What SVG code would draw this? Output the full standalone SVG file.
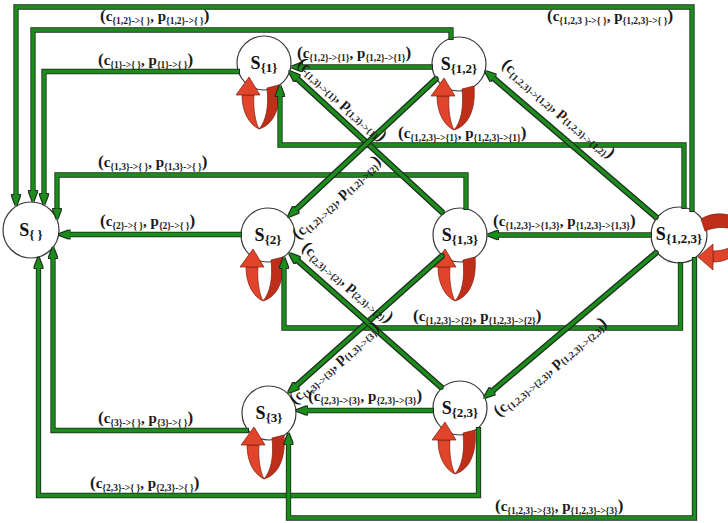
<svg xmlns="http://www.w3.org/2000/svg" width="728" height="523" viewBox="0 0 728 523">
<style>
.nd{fill:#fff;stroke:#3a3a3a;stroke-width:1.2}
.nl{font-family:"Liberation Serif",serif;font-weight:bold;font-size:18px;fill:#111;text-anchor:middle}
.ns{font-size:13px}
.c{fill:none;stroke:#1f8c1f;stroke-width:3.3;marker-end:url(#ah);filter:url(#ol)}
.lb{font-family:"Liberation Serif",serif;font-weight:bold;font-size:15px;fill:#1a1a1a}
.sb{font-size:9.5px}
.pa{font-size:17px}
.rd{fill:#bf2e18;stroke:#7d1c0c;stroke-width:0.7;stroke-linejoin:round}
.rl{fill:#e0442a;stroke:#7d1c0c;stroke-width:0.7;stroke-linejoin:round}
</style>
<defs>
<filter id="ol" filterUnits="userSpaceOnUse" x="0" y="0" width="728" height="523">
<feMorphology in="SourceAlpha" operator="dilate" radius="1" result="d"/>
<feFlood flood-color="#1c2f1c"/>
<feComposite in2="d" operator="in" result="o"/>
<feMerge><feMergeNode in="o"/><feMergeNode in="SourceGraphic"/></feMerge>
</filter>
<marker id="ah" markerUnits="userSpaceOnUse" viewBox="0 0 11 11" refX="0" refY="5.5" markerWidth="11" markerHeight="11" orient="auto"><path d="M0,1.3 L11,5.5 L0,9.7 Z" fill="#1f8c1f"/></marker>
<g id="loop">
<path class="rd" d="M3,25 C5,44 2,58 -5,66 C9,62 17,46 15,22 Z"/>
<path class="rl" d="M-22,32 C-22,50 -14,62 -5,66 C-9,58 -11,45 -10,32 Z"/>
<path class="rl" d="M-28,32 L-15,14 L-4,32 Z"/>
</g>
</defs>
<rect width="728" height="523" fill="#fff"/>
<g id="nodes">
<g id="n_empty"><circle class="nd" cx="31" cy="230" r="28"/><text class="nl" x="31" y="236">S<tspan class="ns" dy="3">{ }</tspan></text></g>
<g id="n_1"><circle class="nd" cx="264" cy="63" r="27"/><text class="nl" x="264" y="69">S<tspan class="ns" dy="3">{1}</tspan></text></g>
<g id="n_12"><circle class="nd" cx="459" cy="64" r="27"/><text class="nl" x="459" y="70">S<tspan class="ns" dy="3">{1,2}</tspan></text></g>
<g id="n_2"><circle class="nd" cx="268" cy="235" r="27"/><text class="nl" x="268" y="241">S<tspan class="ns" dy="3">{2}</tspan></text></g>
<g id="n_13"><circle class="nd" cx="460" cy="235" r="27"/><text class="nl" x="460" y="241">S<tspan class="ns" dy="3">{1,3}</tspan></text></g>
<g id="n_123"><circle class="nd" cx="679" cy="235" r="28"/><text class="nl" x="679" y="240">S<tspan class="ns" dy="3">{1,2,3}</tspan></text></g>
<g id="n_3"><circle class="nd" cx="269" cy="413" r="27"/><text class="nl" x="269" y="419">S<tspan class="ns" dy="3">{3}</tspan></text></g>
<g id="n_23"><circle class="nd" cx="460" cy="408" r="27"/><text class="nl" x="460" y="414">S<tspan class="ns" dy="3">{2,3}</tspan></text></g>
</g>
<g id="connectors">
<g id="selfloops">
<use href="#loop" transform="translate(264,63)"/>
<use href="#loop" transform="translate(459,64)"/>
<use href="#loop" transform="translate(268,235)"/>
<use href="#loop" transform="translate(460,235)"/>
<use href="#loop" transform="translate(269,413)"/>
<use href="#loop" transform="translate(460,408)"/>
<g id="loop123">
<path class="rd" d="M701,219 C712,212 728,212 742,220 L742,233 C730,226 716,226 705,231 Z"/>
<path class="rl" d="M742,233 C738,245 728,251 713,251 L713,262 C730,262 742,252 742,233 Z"/>
<path class="rl" d="M713,244 L698,257 L713,270 Z"/>
</g>
</g>
<path class="c" d="M692,211 V7 H16 V195"/>
<path class="c" d="M451,39 V30 H33 V191"/>
<path class="c" d="M239,71.5 H44 V194"/>
<path class="c" d="M432,67 H302"/>
<path class="c" d="M684,208 V145 H280 V96"/>
<path class="c" d="M466,209 V175 H57 V208.6"/>
<path class="c" d="M241,234.5 H69.6"/>
<path class="c" d="M651,235 H498"/>
<path class="c" d="M680.5,263 V328 H284 V268"/>
<path class="c" d="M433,410.5 H307"/>
<path class="c" d="M248,430.5 H53 V258"/>
<path class="c" d="M478.5,428 V495.5 H38.5 V268"/>
<path class="c" d="M694.5,258 V518 H288.5 V444"/>
<path class="c" d="M443,213 L297.1,78.5"/>
<path class="c" d="M437,78 L296,209.5"/>
<path class="c" d="M657,218 L493.4,78.1"/>
<path class="c" d="M443,255 L296.2,385.7"/>
<path class="c" d="M442,388 L297.3,260.3"/>
<path class="c" d="M657,252 L492.4,390.9"/>
</g>
<g id="labels">
<text class="lb" x="100" y="21"><tspan class="pa">(</tspan>c<tspan class="sb" dy="3">{1,2}-&gt;{ }</tspan><tspan dy="-3">, p</tspan><tspan class="sb" dy="3">{1,2}-&gt;{ }</tspan><tspan class="pa" dy="-3">)</tspan></text>
<text class="lb" x="98" y="65"><tspan class="pa">(</tspan>c<tspan class="sb" dy="3">{1}-&gt;{ }</tspan><tspan dy="-3">, p</tspan><tspan class="sb" dy="3">{1}-&gt;{ }</tspan><tspan class="pa" dy="-3">)</tspan></text>
<text class="lb" x="547" y="21"><tspan class="pa">(</tspan>c<tspan class="sb" dy="3">{1,2,3 }-&gt;{ }</tspan><tspan dy="-3">, p</tspan><tspan class="sb" dy="3">{1,2,3}-&gt;{ }</tspan><tspan class="pa" dy="-3">)</tspan></text>
<text class="lb" x="297" y="58"><tspan class="pa">(</tspan>c<tspan class="sb" dy="3">{1,2}-&gt;{1}</tspan><tspan dy="-3">, p</tspan><tspan class="sb" dy="3">{1,2}-&gt;{1}</tspan><tspan class="pa" dy="-3">)</tspan></text>
<text class="lb" x="98" y="167"><tspan class="pa">(</tspan>c<tspan class="sb" dy="3">{1,3}-&gt;{ }</tspan><tspan dy="-3">, p</tspan><tspan class="sb" dy="3">{1,3}-&gt;{ }</tspan><tspan class="pa" dy="-3">)</tspan></text>
<text class="lb" x="100" y="226"><tspan class="pa">(</tspan>c<tspan class="sb" dy="3">{2}-&gt;{ }</tspan><tspan dy="-3">, p</tspan><tspan class="sb" dy="3">{2}-&gt;{ }</tspan><tspan class="pa" dy="-3">)</tspan></text>
<text class="lb" x="398" y="138"><tspan class="pa">(</tspan>c<tspan class="sb" dy="3">{1,2,3}-&gt;{1}</tspan><tspan dy="-3">, p</tspan><tspan class="sb" dy="3">{1,2,3}-&gt;{1}</tspan><tspan class="pa" dy="-3">)</tspan></text>
<text class="lb" x="493" y="226"><tspan class="pa">(</tspan>c<tspan class="sb" dy="3">{1,2,3}-&gt;{1,3}</tspan><tspan dy="-3">, p</tspan><tspan class="sb" dy="3">{1,2,3}-&gt;{1,3}</tspan><tspan class="pa" dy="-3">)</tspan></text>
<text class="lb" x="413" y="321"><tspan class="pa">(</tspan>c<tspan class="sb" dy="3">{1,2,3}-&gt;{2}</tspan><tspan dy="-3">, p</tspan><tspan class="sb" dy="3">{1,2,3}-&gt;{2}</tspan><tspan class="pa" dy="-3">)</tspan></text>
<text class="lb" x="308" y="401"><tspan class="pa">(</tspan>c<tspan class="sb" dy="3">{2,3}-&gt;{3}</tspan><tspan dy="-3">, p</tspan><tspan class="sb" dy="3">{2,3}-&gt;{3}</tspan><tspan class="pa" dy="-3">)</tspan></text>
<text class="lb" x="98" y="423"><tspan class="pa">(</tspan>c<tspan class="sb" dy="3">{3}-&gt;{ }</tspan><tspan dy="-3">, p</tspan><tspan class="sb" dy="3">{3}-&gt;{ }</tspan><tspan class="pa" dy="-3">)</tspan></text>
<text class="lb" x="90" y="488"><tspan class="pa">(</tspan>c<tspan class="sb" dy="3">{2,3}-&gt;{ }</tspan><tspan dy="-3">, p</tspan><tspan class="sb" dy="3">{2,3}-&gt;{ }</tspan><tspan class="pa" dy="-3">)</tspan></text>
<text class="lb" x="495" y="511"><tspan class="pa">(</tspan>c<tspan class="sb" dy="3">{1,2,3}-&gt;{3}</tspan><tspan dy="-3">, p</tspan><tspan class="sb" dy="3">{1,2,3}-&gt;{3}</tspan><tspan class="pa" dy="-3">)</tspan></text>
<text class="lb" transform="translate(296.7,64.6) rotate(42.5)"><tspan class="pa">(</tspan>c<tspan class="sb" dy="3">{1,3}-&gt;{1}</tspan><tspan dy="-3">, p</tspan><tspan class="sb" dy="3">{1,3}-&gt;{1}</tspan><tspan class="pa" dy="-3">)</tspan></text>
<text class="lb" transform="translate(501,66) rotate(40.5)"><tspan class="pa">(</tspan>c<tspan class="sb" dy="3">{1,2,3}-&gt;{1,2}</tspan><tspan dy="-3">, p</tspan><tspan class="sb" dy="3">{1,2,3}-&gt;{1,2}</tspan><tspan class="pa" dy="-3">)</tspan></text>
<text class="lb" transform="translate(298,240) rotate(-43)"><tspan class="pa">(</tspan>c<tspan class="sb" dy="3">{1,2}-&gt;{2}</tspan><tspan dy="-3">, p</tspan><tspan class="sb" dy="3">{1,2}-&gt;{2}</tspan><tspan class="pa" dy="-3">)</tspan></text>
<text class="lb" transform="translate(301,249) rotate(40.5)"><tspan class="pa">(</tspan>c<tspan class="sb" dy="3">{2,3}-&gt;{2}</tspan><tspan dy="-3">, p</tspan><tspan class="sb" dy="3">{2,3}-&gt;{2}</tspan><tspan class="pa" dy="-3">)</tspan></text>
<text class="lb" transform="translate(295,405) rotate(-42)"><tspan class="pa">(</tspan>c<tspan class="sb" dy="3">{1,3}-&gt;{3}</tspan><tspan dy="-3">, p</tspan><tspan class="sb" dy="3">{1,3}-&gt;{3}</tspan><tspan class="pa" dy="-3">)</tspan></text>
<text class="lb" transform="translate(499,417) rotate(-40.5)"><tspan class="pa">(</tspan>c<tspan class="sb" dy="3">{1,2,3}-&gt;{2,3}</tspan><tspan dy="-3">, p</tspan><tspan class="sb" dy="3">{1,2,3}-&gt;{2,3}</tspan><tspan class="pa" dy="-3">)</tspan></text>
</g>
</svg>
